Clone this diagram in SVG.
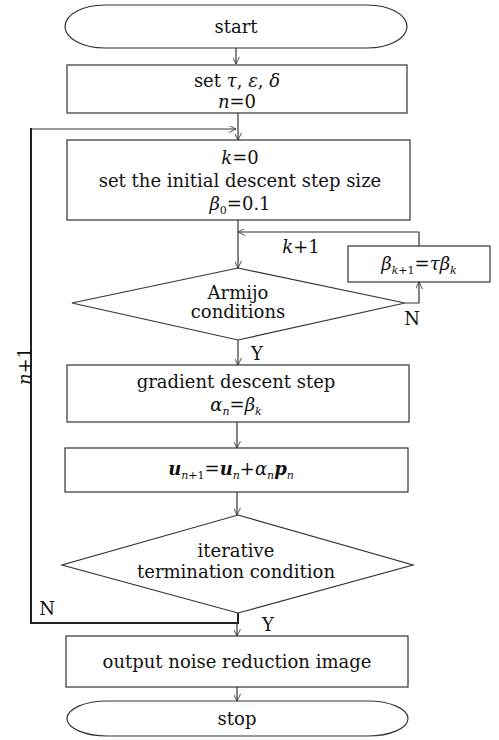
<svg xmlns="http://www.w3.org/2000/svg" width="499" height="740" viewBox="0 0 499 740">
<defs>
<marker id="arr" viewBox="0 0 10 10" refX="10" refY="5" markerWidth="7" markerHeight="7" markerUnits="userSpaceOnUse" orient="auto">
<polyline points="0,0 10,5 0,10" fill="none" stroke="#333" stroke-width="1.2"/>
</marker>
</defs>
<style>
.s{fill:#fff;stroke:#333;stroke-width:1.2}
.c{fill:none;stroke:#333;stroke-width:1.2}
.t{font-family:"DejaVu Serif","Liberation Serif",serif;font-size:18px;fill:#111;text-anchor:middle}
.i{font-style:italic}
.b{font-style:italic;font-weight:bold}
.sub{font-size:11px;font-style:italic}
.sd{font-size:11px;font-style:normal}
</style>
<rect width="499" height="740" fill="#fff"/>
<g id="connectors">
<line class="c" x1="236" y1="48" x2="236" y2="64" marker-end="url(#arr)"/>
<line class="c" x1="238" y1="113" x2="238" y2="140" marker-end="url(#arr)"/>
<polyline class="c" points="31,129 236,129" marker-end="url(#arr)"/>
<line class="c" x1="238" y1="220" x2="238" y2="268" marker-end="url(#arr)"/>
<polyline class="c" points="419,246 419,232 238,232" marker-end="url(#arr)"/>
<polyline class="c" points="405,303 419,303 419,282" marker-end="url(#arr)"/>
<line class="c" x1="238" y1="340" x2="238" y2="365" marker-end="url(#arr)"/>
<line class="c" x1="237" y1="422" x2="237" y2="448" marker-end="url(#arr)"/>
<line class="c" x1="237" y1="492" x2="237" y2="515" marker-end="url(#arr)"/>
<polyline points="238,613 238,623 31,623 31,128" fill="none" stroke="#222" stroke-width="2"/>
<line class="c" x1="237" y1="623" x2="237" y2="636" marker-end="url(#arr)"/>
<line class="c" x1="237" y1="687" x2="237" y2="701" marker-end="url(#arr)"/>
<text class="t i" x="301" y="253">k<tspan font-style="normal">+1</tspan></text>
<text class="t" x="412" y="325">N</text>
<text class="t" x="257" y="360">Y</text>
<text class="t" x="47" y="615">N</text>
<text class="t" x="268" y="631">Y</text>
<text class="t" x="0" y="0" transform="translate(31,366) rotate(-90)"><tspan font-style="italic">n</tspan>+1</text>
</g>
<g id="start">
<rect class="s" x="65" y="5" width="342" height="43" rx="40" ry="21.5"/>
<text class="t" x="236" y="33">start</text>
</g>
<g id="init">
<rect class="s" x="67" y="65" width="340" height="48"/>
<text class="t" x="237" y="87">set <tspan class="i">τ</tspan>, <tspan class="i">ε</tspan>, <tspan class="i">δ</tspan></text>
<text class="t" x="237" y="108"><tspan class="i">n</tspan>=0</text>
</g>
<g id="stepinit">
<rect class="s" x="67" y="140" width="343" height="80"/>
<text class="t" x="240" y="164"><tspan class="i">k</tspan>=0</text>
<text class="t" x="240" y="187">set the initial descent step size</text>
<text class="t" x="240" y="210"><tspan class="i">β</tspan><tspan class="sd" dy="4">0</tspan><tspan dy="-4">=0.1</tspan></text>
</g>
<g id="update">
<rect class="s" x="348" y="246" width="142" height="36"/>
<text class="t" x="419" y="270"><tspan class="i">β</tspan><tspan class="sub" dy="4">k</tspan><tspan class="sd">+1</tspan><tspan dy="-4">=</tspan><tspan class="i">τβ</tspan><tspan class="sub" dy="4">k</tspan></text>
</g>
<g id="armijo">
<polygon class="s" points="238,268 405,303 238,340 72,303"/>
<text class="t" x="238" y="299">Armijo</text>
<text class="t" x="238" y="318">conditions</text>
</g>
<g id="gradient">
<rect class="s" x="67" y="365" width="342" height="57"/>
<text class="t" x="236" y="388">gradient descent step</text>
<text class="t" x="236" y="411"><tspan class="i">α</tspan><tspan class="sub" dy="4">n</tspan><tspan dy="-4">=</tspan><tspan class="i">β</tspan><tspan class="sub" dy="4">k</tspan></text>
</g>
<g id="uupdate">
<rect class="s" x="65" y="448" width="343" height="44"/>
<text class="t" x="231" y="475"><tspan class="b">u</tspan><tspan class="sub" dy="4">n</tspan><tspan class="sd">+1</tspan><tspan dy="-4">=</tspan><tspan class="b">u</tspan><tspan class="sub" dy="4">n</tspan><tspan dy="-4">+</tspan><tspan class="i">α</tspan><tspan class="sub" dy="4">n</tspan><tspan class="b" dy="-4">p</tspan><tspan class="sub" dy="4">n</tspan></text>
</g>
<g id="termination">
<polygon class="s" points="238,515 413,565 238,613 62,565"/>
<text class="t" x="236" y="557">iterative</text>
<text class="t" x="236" y="578">termination condition</text>
</g>
<g id="output">
<rect class="s" x="66" y="636" width="342" height="51"/>
<text class="t" x="237" y="668">output noise reduction image</text>
</g>
<g id="stop">
<rect class="s" x="67" y="701" width="341" height="35" rx="40" ry="17.5"/>
<text class="t" x="237" y="725">stop</text>
</g>
</svg>
